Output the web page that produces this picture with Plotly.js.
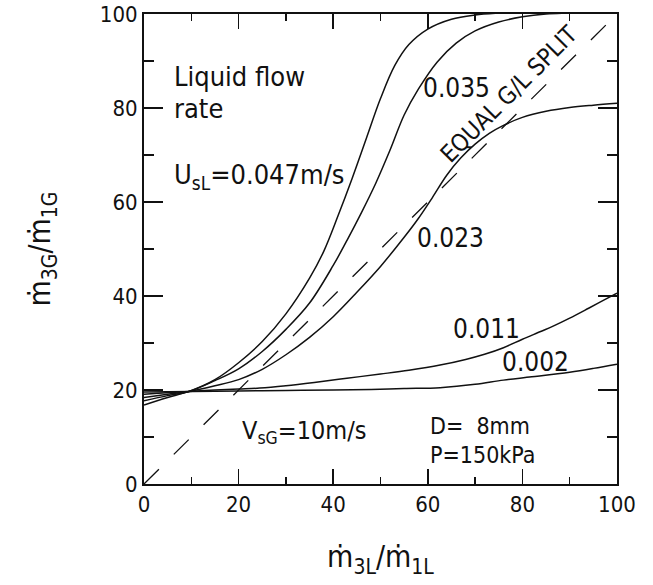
<!DOCTYPE html>
<html>
<head>
<meta charset="utf-8">
<script src="https://cdn.plot.ly/plotly-3.0.1.min.js"></script>
<style>
  html, body { margin: 0; padding: 0; background: #ffffff; }
  #chart { width: 653px; height: 585px; }
</style>
</head>
<body>
<div id="chart"></div>
<script>
// Gas take-off fraction m3G/m1G versus liquid take-off fraction m3L/m1L
// for several liquid superficial velocities (m/s).

// U_sL = 0.047 m/s
const x047 = [0, 5, 9.5, 15, 20, 25, 30, 35, 38, 41, 44, 47, 50, 53, 56, 60, 65, 70, 75];
const y047 = [16.8, 18.4, 19.7, 22.2, 25.8, 30.3, 36.2, 43.8, 49.5, 57, 65, 73.5, 82, 89, 93.5, 96.8, 98.9, 99.8, 100.2];

// U_sL = 0.035 m/s
const x035 = [0, 5, 9.5, 15, 20, 25, 30, 35, 40, 43, 46, 49, 52, 55, 58, 62, 66, 70, 75, 80, 85, 90];
const y035 = [17.7, 18.8, 19.7, 22, 24.5, 28.2, 32.9, 38.5, 46.5, 52, 57.8, 64, 71, 78.5, 84, 89.8, 93.8, 96.4, 98.3, 99.4, 100, 100.2];

// U_sL = 0.023 m/s
const x023 = [0, 5, 9.5, 15, 20, 25, 30, 35, 40, 45, 50, 55, 58, 61, 64, 67, 70, 73, 76, 80, 85, 90, 95, 100];
const y023 = [18.4, 19.1, 19.7, 20.9, 22.2, 24.4, 27.5, 31.2, 35.6, 40.8, 46.3, 52.5, 56.5, 61, 65.7, 69.4, 72.3, 74.6, 76.3, 78, 79.3, 80.1, 80.6, 81];

// U_sL = 0.011 m/s
const x011 = [0, 3, 6, 9.5, 15, 20, 24.5, 30, 36, 42.9, 50, 56, 62.6, 68, 72, 76, 80, 84, 86.5, 90, 94, 97, 100];
const y011 = [19.1, 19.3, 19.5, 19.7, 20, 20.2, 20.4, 20.9, 21.6, 22.5, 23.4, 24.2, 25.3, 26.5, 27.6, 29, 30.8, 32.5, 33.6, 35.3, 37.4, 39, 40.6];

// U_sL = 0.002 m/s
const x002 = [0, 10, 20, 30, 40, 48, 55, 62.6, 70, 76, 82, 90, 95, 100];
const y002 = [19.6, 19.7, 19.8, 19.9, 20, 20.1, 20.3, 20.5, 21.2, 22.1, 22.8, 23.8, 24.6, 25.5];

// Equal gas/liquid split reference line
const xEqual = [0, 100];
const yEqual = [0, 100];

// Axis ticks
const tickVals = [0, 20, 40, 60, 80, 100];
const tickText = ['0', '20', '40', '60', '80', '100'];

const FONT = '"DejaVu Sans Condensed", "Liberation Sans Narrow", "DejaVu Sans", sans-serif';
const INK = '#111111';

function curve(x, y, name) {
  return {
    x: x, y: y, name: name, type: 'scatter', mode: 'lines',
    line: { color: INK, width: 1.5, shape: 'spline', smoothing: 1 },
    hoverinfo: 'x+y+name'
  };
}

const traces = [
  curve(x047, y047, '0.047'),
  curve(x035, y035, '0.035'),
  curve(x023, y023, '0.023'),
  curve(x011, y011, '0.011'),
  curve(x002, y002, '0.002'),
  {
    x: xEqual, y: yEqual, name: 'equal split', type: 'scatter', mode: 'lines',
    line: { color: INK, width: 1.3, dash: '21px,21px' },
    hoverinfo: 'skip'
  }
];

function note(text, x, y, size, extra) {
  return Object.assign({
    text: text, x: x, y: y, xref: 'x', yref: 'y',
    showarrow: false, xanchor: 'left', yanchor: 'middle',
    font: { family: FONT, size: size, color: INK }
  }, extra || {});
}

const annotations = [
  note('Liquid flow', 5.9, 86.8, 27),
  note('rate', 5.9, 79.8, 27),
  note('U<sub>sL</sub>=0.047m/s', 5.9, 65.5, 27),
  note('0.035', 66, 84.3, 26, { xanchor: 'center' }),
  note('0.023', 64.9, 52.3, 26, { xanchor: 'center' }),
  note('0.011', 72.5, 33, 26, { xanchor: 'center' }),
  note('0.002', 82.7, 26, 26, { xanchor: 'center' }),
  note('EQUAL G/L SPLIT', 77.2, 83, 24, { xanchor: 'center', textangle: -45 }),
  note('V<sub>sG</sub>=10m/s', 20.3, 11, 25),
  note('D=  8mm', 60, 12.3, 23),
  note('P=150kPa', 60, 6.2, 23)
];

const axisCommon = {
  range: [0, 100],
  tickmode: 'array',
  tickvals: tickVals,
  ticktext: tickText,
  ticks: 'inside',
  tickwidth: 1.5,
  tickcolor: INK,
  showline: true,
  linewidth: 2,
  linecolor: INK,
  mirror: 'ticks',
  showgrid: false,
  zeroline: false,
  fixedrange: true,
  tickfont: { family: FONT, size: 22, color: INK }
};

const layout = {
  width: 653,
  height: 585,
  margin: { l: 144, r: 36, t: 14, b: 101 },
  paper_bgcolor: '#ffffff',
  plot_bgcolor: '#ffffff',
  showlegend: false,
  xaxis: Object.assign({}, axisCommon, {
    ticklen: 15,
    minor: { dtick: 10, ticks: 'inside', ticklen: 7, tickwidth: 1.5, tickcolor: INK, showgrid: false },
    title: {
      text: 'ṁ<sub>3L</sub>/ṁ<sub>1L</sub>',
      font: { family: FONT, size: 30, color: INK },
      standoff: 30
    }
  }),
  yaxis: Object.assign({}, axisCommon, {
    ticklen: 19,
    minor: { dtick: 10, ticks: 'inside', ticklen: 10, tickwidth: 1.5, tickcolor: INK, showgrid: false },
    title: {
      text: 'ṁ<sub>3G</sub>/ṁ<sub>1G</sub>',
      font: { family: FONT, size: 30, color: INK },
      standoff: 40
    }
  }),
  annotations: annotations
};

Plotly.newPlot('chart', traces, layout, { displayModeBar: false, staticPlot: true });
</script>
</body>
</html>
